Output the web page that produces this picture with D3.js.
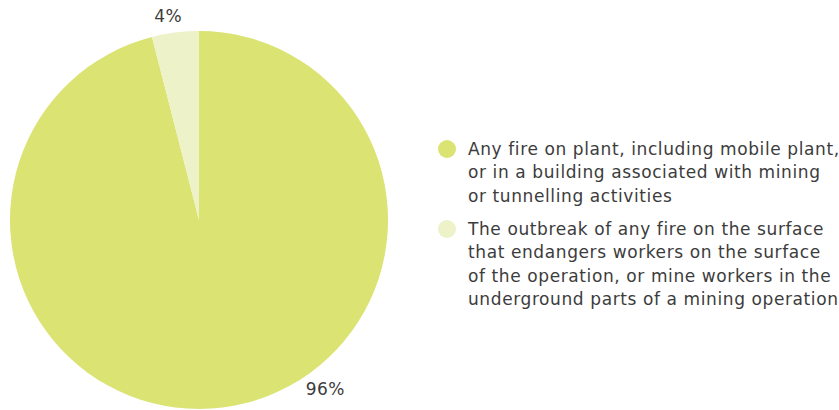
<!DOCTYPE html>
<html><head><meta charset="utf-8">
<script src="https://cdn.jsdelivr.net/npm/d3@7"></script>
<style>
html,body{margin:0;padding:0;background:#fff;}
svg{display:block;}
text{font-family:"DejaVu Sans",sans-serif;fill:#3c3c3c;}
</style></head>
<body>
<svg id="chart" width="839" height="410"></svg>
<script>
const categories = [
  "Any fire on plant, including mobile plant, or in a building associated with mining or tunnelling activities",
  "The outbreak of any fire on the surface that endangers workers on the surface of the operation, or mine workers in the underground parts of a mining operation"
];
const legendLines = [
  ["Any fire on plant, including mobile plant,", "or in a building associated with mining", "or tunnelling activities"],
  ["The outbreak of any fire on the surface", "that endangers workers on the surface", "of the operation, or mine workers in the", "underground parts of a mining operation"]
];
const values = [96, 4];
const valueLabels = ["96%", "4%"];
const colors = ["#dbe373", "#edf2c8"];

const svg = d3.select("#chart");
const cx = 199, cy = 220, r = 189;
const g = svg.append("g").attr("transform", `translate(${cx},${cy})`);

const pie = d3.pie().sort(null).value(d => d);
const arcs = pie(values);
const arc = d3.arc().innerRadius(0).outerRadius(r);

g.selectAll("path").data(arcs).enter().append("path")
  .attr("d", arc).attr("fill", (d, i) => colors[i]);

const labelAngle = [2.5, -0.15];
const labelRadius = [211, 206];
g.selectAll("text.lbl").data(arcs).enter().append("text")
  .attr("class", "lbl")
  .attr("x", (d, i) => labelRadius[i] * Math.sin(labelAngle[i]))
  .attr("y", (d, i) => -labelRadius[i] * Math.cos(labelAngle[i]))
  .attr("text-anchor", "middle").attr("dominant-baseline", "central")
  .style("font-size", "17px").style("letter-spacing", "0.5px")
  .text((d, i) => valueLabels[i]);

const lx = 447, ly = [149, 229], lineH = 23.3;
const leg = svg.append("g");
legendLines.forEach((lines, i) => {
  leg.append("circle").attr("cx", lx).attr("cy", ly[i]).attr("r", 9).attr("fill", colors[i]);
  const t = leg.append("text").attr("x", lx + 21).attr("y", ly[i] + 6)
    .style("font-size", "17px").style("letter-spacing", "0.6px");
  lines.forEach((s, j) => {
    t.append("tspan").attr("x", lx + 21).attr("dy", j === 0 ? 0 : lineH).text(s);
  });
});
</script>
</body></html>
